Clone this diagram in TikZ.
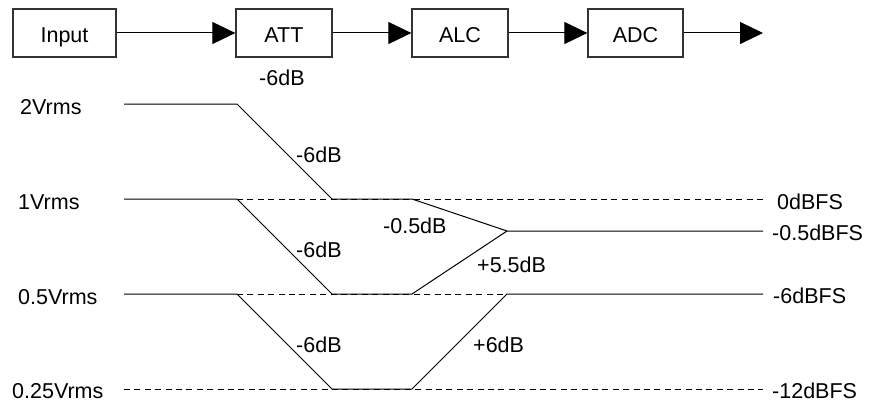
\documentclass[tikz,border=0pt]{standalone}
\usepackage{fontspec}
\setmainfont{Liberation Sans}
\usetikzlibrary{arrows.meta}
\begin{document}
\begin{tikzpicture}[x=1pt,y=-1pt,
  every node/.style={font=\fontsize{21.5}{25}\selectfont, inner sep=0pt},
  blockbox/.style={draw=black!80, line width=1.3pt, minimum height=48pt, text height=20pt, text depth=0pt},
  flow/.style={line width=1pt, -{Triangle[length=23pt,width=22pt]}},
  level/.style={line width=1pt, black},
  dashlevel/.style={line width=1pt, black, dash pattern=on 6pt off 4.4pt},
  lbl/.style={anchor=base west}]
\useasboundingbox (0,0) rectangle (870,404);
% block chain
\node[blockbox, minimum width=103pt] (in)  at (64.5,33) {Input};
\node[blockbox, minimum width=96pt]  (att) at (284,33)  {ATT};
\node[blockbox, minimum width=96pt]  (alc) at (460,33)  {ALC};
\node[blockbox, minimum width=95pt]  (adc) at (635.5,33) {ADC};
\coordinate (out) at (763,33);
\draw[flow] (in) -- (att);
\draw[flow] (att) -- (alc);
\draw[flow] (alc) -- (adc);
\draw[flow] (adc.east) -- (out);
\node[lbl] (attg) at (259,85) {-6dB};
% key points
\coordinate (a2) at (124,104); \coordinate (b2) at (237,104);
\coordinate (a1) at (124,199); \coordinate (b1) at (237,199); \coordinate (c1) at (332,199); \coordinate (d1) at (412,199); \coordinate (r1) at (763,199);
\coordinate (e5) at (507,231); \coordinate (r5) at (763,231);
\coordinate (ah) at (124,294); \coordinate (bh) at (237,294); \coordinate (ch) at (332,294); \coordinate (dh) at (412,294); \coordinate (eh) at (507,294); \coordinate (rh) at (763,294);
\coordinate (aq) at (124,389); \coordinate (cq) at (332,389); \coordinate (dq) at (412,389); \coordinate (rq) at (763,389);
% dashed references
\draw[dashlevel] (b1) -- (r1);
\draw[dashlevel] (bh) -- (eh);
\draw[dashlevel] (aq) -- (rq);
% level paths
\draw[level] (a2) -- (b2) -- (c1) -- (d1) -- (e5) -- (r5);
\draw[level] (a1) -- (b1) -- (ch) -- (dh) -- (e5);
\draw[level] (ah) -- (bh) -- (cq) -- (dq) -- (eh) -- (rh);
% left labels
\node[lbl] (v2)  at (20,114) {2Vrms};
\node[lbl] (v1)  at (18,209) {1Vrms};
\node[lbl] (v05) at (18,304) {0.5Vrms};
\node[lbl] (v025) at (12,398) {0.25Vrms};
% right labels
\node[lbl] (f0)  at (777,209) {0dBFS};
\node[lbl] (f05) at (772,240) {-0.5dBFS};
\node[lbl] (f6)  at (773,303) {-6dBFS};
\node[lbl] (f12) at (772,398) {-12dBFS};
% slope labels
\node[lbl] (s1) at (296,162) {-6dB};
\node[lbl] (s2) at (296,257) {-6dB};
\node[lbl] (s3) at (296,352) {-6dB};
\node[lbl] (s4) at (383,233) {-0.5dB};
\node[lbl] (s5) at (477,272) {+5.5dB};
\node[lbl] (s6) at (473,352) {+6dB};
\end{tikzpicture}
\end{document}
